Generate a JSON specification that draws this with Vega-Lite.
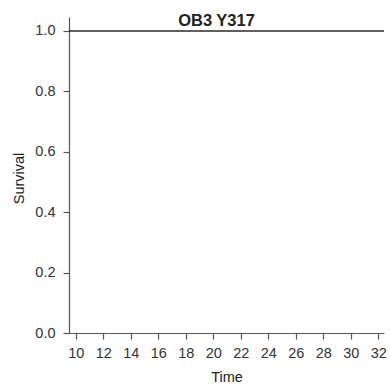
{
  "$schema": "https://vega.github.io/schema/vega-lite/v6.json",
  "autosize": "none",
  "width": 315,
  "height": 316,
  "padding": {"left": 69, "top": 17, "right": 6, "bottom": 54},
  "background": "white",
  "title": {
    "text": "OB3 Y317",
    "font": "Liberation Sans",
    "fontSize": 16.5,
    "fontWeight": "bold",
    "color": "#222222",
    "anchor": "middle",
    "baseline": "alphabetic",
    "offset": -5,
    "dy": 20,
    "dx": -10
  },
  "config": {
    "view": {"stroke": null},
    "axis": {
      "labelFont": "Liberation Sans",
      "labelFontSize": 14.5,
      "labelColor": "#333333",
      "titleFont": "Liberation Sans",
      "titleFontSize": 14.5,
      "titleFontWeight": "normal",
      "titleColor": "#222222",
      "domainColor": "#555555",
      "domainWidth": 1.2,
      "tickColor": "#555555",
      "tickWidth": 1.2,
      "tickSize": 6,
      "grid": false
    }
  },
  "data": {
    "values": [
      {"time": 9.5, "survival": 1.0},
      {"time": 32.42, "survival": 1.0}
    ]
  },
  "mark": {"type": "line", "color": "#2a2a2a", "strokeWidth": 1.4, "clip": true},
  "encoding": {
    "x": {
      "field": "time",
      "type": "quantitative",
      "title": "Time",
      "scale": {"domain": [9.5, 32.42], "nice": false, "zero": false},
      "axis": {
        "values": [10, 12, 14, 16, 18, 20, 22, 24, 26, 28, 30, 32],
        "labelPadding": 7,
        "titlePadding": 11
      }
    },
    "y": {
      "field": "survival",
      "type": "quantitative",
      "title": "Survival",
      "scale": {"domain": [0, 1.0463], "nice": false},
      "axis": {
        "values": [0, 0.2, 0.4, 0.6, 0.8, 1.0],
        "format": ".1f",
        "labelPadding": 8,
        "titlePadding": 8,
        "titleY": 161
      }
    }
  }
}
